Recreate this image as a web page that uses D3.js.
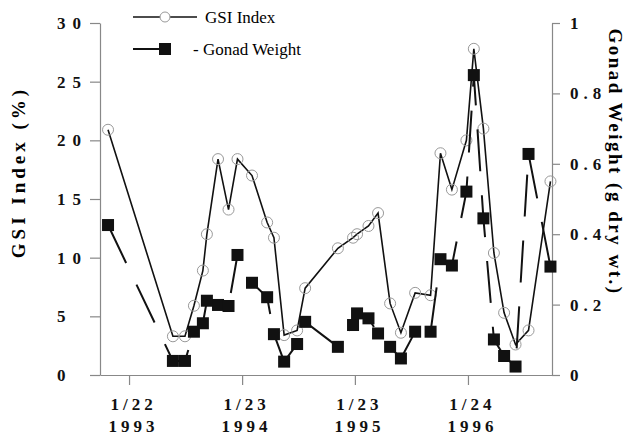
<!DOCTYPE html>
<html>
<head>
<meta charset="utf-8">
<script src="https://cdn.jsdelivr.net/npm/d3@7"></script>
<style>
  body { margin: 0; background: #fff; }
  svg, svg text { font-family: "Liberation Serif", "Times New Roman", serif; }
  .tick text { font-weight: bold; fill: #111; }
  .axis path, .axis line { stroke: #888; stroke-width: 1.2; }
</style>
</head>
<body>
<div id="chart"></div>
<script>
// sampling dates
var sampleDates = ["1992-11-15", "1993-06-13", "1993-07-22", "1993-08-20", "1993-09-18",
  "1993-10-01", "1993-11-06", "1993-12-10", "1994-01-08", "1994-02-24", "1994-04-14",
  "1994-05-06", "1994-06-08", "1994-07-20", "1994-08-15", "1994-11-29", "1995-01-17",
  "1995-01-30", "1995-03-08", "1995-04-08", "1995-05-17", "1995-06-21", "1995-08-06",
  "1995-09-25", "1995-10-27", "1995-12-03", "1996-01-19", "1996-02-12", "1996-03-14",
  "1996-04-17", "1996-05-20", "1996-06-26", "1996-08-07", "1996-10-17"];

var gsiIndex = [20.9, 3.3, 3.3, 5.9, 8.9, 12.0, 18.4, 14.1, 18.4, 17.0, 13.0,
  11.7, 3.4, 3.8, 7.4, 10.8, 11.7, 12.0, 12.7, 13.8, 6.1, 3.6, 7.0,
  6.8, 18.9, 15.8, 20.0, 27.8, 21.0, 10.4, 5.3, 2.6, 3.8, 16.5];

var gonadWeight = [0.426, 0.04, 0.04, 0.123, 0.147, 0.211, 0.199, 0.196, 0.341, 0.262, 0.221,
  0.116, 0.038, 0.088, 0.151, 0.080, 0.142, 0.175, 0.161, 0.118, 0.080, 0.047, 0.123,
  0.123, 0.329, 0.311, 0.521, 0.852, 0.445, 0.101, 0.054, 0.024, 0.628, 0.308];

var xTickDates = ["1993-01-22", "1994-01-23", "1995-01-23", "1996-01-24"];
var xTickLabels = [["1/22", "1993"], ["1/23", "1994"], ["1/23", "1995"], ["1/24", "1996"]];
var leftTicks = [0, 5, 10, 15, 20, 25, 30];
var rightTicks = [0, 0.2, 0.4, 0.6, 0.8, 1];

var parse = d3.utcParse("%Y-%m-%d");
var data = sampleDates.map(function(d, i) {
  return { date: parse(d), gsi: gsiIndex[i], gonad: gonadWeight[i] };
});

var W = 634, H = 435;
var plotL = 100, plotR = 552, plotT = 23, plotB = 375;
var serif = '"Liberation Serif", "Times New Roman", serif';

var x = d3.scaleUtc()
    .domain([parse("1992-10-20"), parse("1996-10-22")])
    .range([plotL, plotR]);
var yL = d3.scaleLinear().domain([0, 30]).range([plotB, plotT]);
var yR = d3.scaleLinear().domain([0, 1]).range([plotB, plotT]);

var svg = d3.select("#chart").append("svg")
    .attr("width", W)
    .attr("height", H);

// left axis
var gL = svg.append("g")
    .attr("class", "axis")
    .attr("transform", "translate(" + plotL + ",0)")
    .call(d3.axisLeft(yL).tickValues(leftTicks).tickSize(10).tickSizeOuter(0));
gL.attr("font-family", serif);
gL.selectAll(".tick text")
    .attr("x", -43)
    .attr("text-anchor", "start")
    .style("font-size", "17px")
    .style("letter-spacing", "7px");

// right axis
var gR = svg.append("g")
    .attr("class", "axis")
    .attr("transform", "translate(" + plotR + ",0)")
    .call(d3.axisRight(yR).tickValues(rightTicks).tickSize(8).tickSizeOuter(0)
      .tickFormat(function(d) { return d === 0 || d === 1 ? String(d) : d3.format(".1f")(d); }));
gR.attr("font-family", serif);
gR.selectAll(".tick text")
    .attr("x", 18)
    .attr("text-anchor", "start")
    .style("font-size", "17px")
    .style("letter-spacing", "5px");

// bottom axis
var gB = svg.append("g")
    .attr("class", "axis")
    .attr("transform", "translate(0," + plotB + ")")
    .call(d3.axisBottom(x).tickValues(xTickDates.map(parse)).tickSize(10).tickSizeOuter(0)
      .tickFormat(""));
gB.attr("font-family", serif);
gB.selectAll(".tick text").remove();
gB.selectAll(".tick").each(function(d, i) {
  var t = d3.select(this).append("text")
      .attr("text-anchor", "middle")
      .style("font-size", "17px")
      .style("letter-spacing", "4px");
  t.append("tspan").attr("x", 4).attr("y", 35).text(xTickLabels[i][0]);
  t.append("tspan").attr("x", 4).attr("y", 57).text(xTickLabels[i][1]);
});

// axis titles
svg.append("text")
    .attr("transform", "translate(25," + ((plotT + plotB) / 2 - 27) + ") rotate(-90)")
    .attr("text-anchor", "middle")
    .style("font-size", "19px")
    .style("font-weight", "bold")
    .style("letter-spacing", "4px")
    .text("GSI Index (%)");

svg.append("text")
    .attr("transform", "translate(609," + 162 + ") rotate(90)")
    .attr("text-anchor", "middle")
    .style("font-size", "19px")
    .style("font-weight", "bold")
    .style("letter-spacing", "2.5px")
    .text("Gonad Weight (g dry wt.)");

// GSI line + open circles
var gsiLine = d3.line()
    .x(function(d) { return x(d.date); })
    .y(function(d) { return yL(d.gsi); });

svg.append("path")
    .datum(data)
    .attr("fill", "none")
    .attr("stroke", "#111")
    .attr("stroke-width", 1.6)
    .attr("d", gsiLine);

svg.selectAll(".gsiDot")
    .data(data)
  .enter().append("circle")
    .attr("class", "gsiDot")
    .attr("cx", function(d) { return x(d.date); })
    .attr("cy", function(d) { return yL(d.gsi); })
    .attr("r", 5.5)
    .attr("fill", "none")
    .attr("stroke", "#999")
    .attr("stroke-width", 1);

// gonad weight dashed line + filled squares
var gonadLine = d3.line()
    .x(function(d) { return x(d.date); })
    .y(function(d) { return yR(d.gonad); });

svg.append("path")
    .datum(data)
    .attr("fill", "none")
    .attr("stroke", "#111")
    .attr("stroke-width", 2)
    .attr("stroke-dasharray", "42,24")
    .attr("d", gonadLine);

var sq = 12;
svg.selectAll(".gonadDot")
    .data(data)
  .enter().append("rect")
    .attr("class", "gonadDot")
    .attr("x", function(d) { return x(d.date) - sq / 2; })
    .attr("y", function(d) { return yR(d.gonad) - sq / 2; })
    .attr("width", sq)
    .attr("height", sq)
    .attr("fill", "#111");

// legend
var legend = svg.append("g").attr("class", "legend");
legend.append("line")
    .attr("x1", 133).attr("x2", 197).attr("y1", 17).attr("y2", 17)
    .attr("stroke", "#111").attr("stroke-width", 1.6);
legend.append("circle")
    .attr("cx", 165).attr("cy", 17).attr("r", 5)
    .attr("fill", "#fff").attr("stroke", "#999");
legend.append("text")
    .attr("x", 205).attr("y", 23)
    .style("font-size", "17px")
    .text("GSI Index");

legend.append("line")
    .attr("x1", 133).attr("x2", 165).attr("y1", 49).attr("y2", 49)
    .attr("stroke", "#111").attr("stroke-width", 2);
legend.append("rect")
    .attr("x", 159).attr("y", 43).attr("width", 12).attr("height", 12)
    .attr("fill", "#111");
legend.append("text")
    .attr("x", 193).attr("y", 55)
    .style("font-size", "17px")
    .text("- Gonad Weight");
</script>
</body>
</html>
